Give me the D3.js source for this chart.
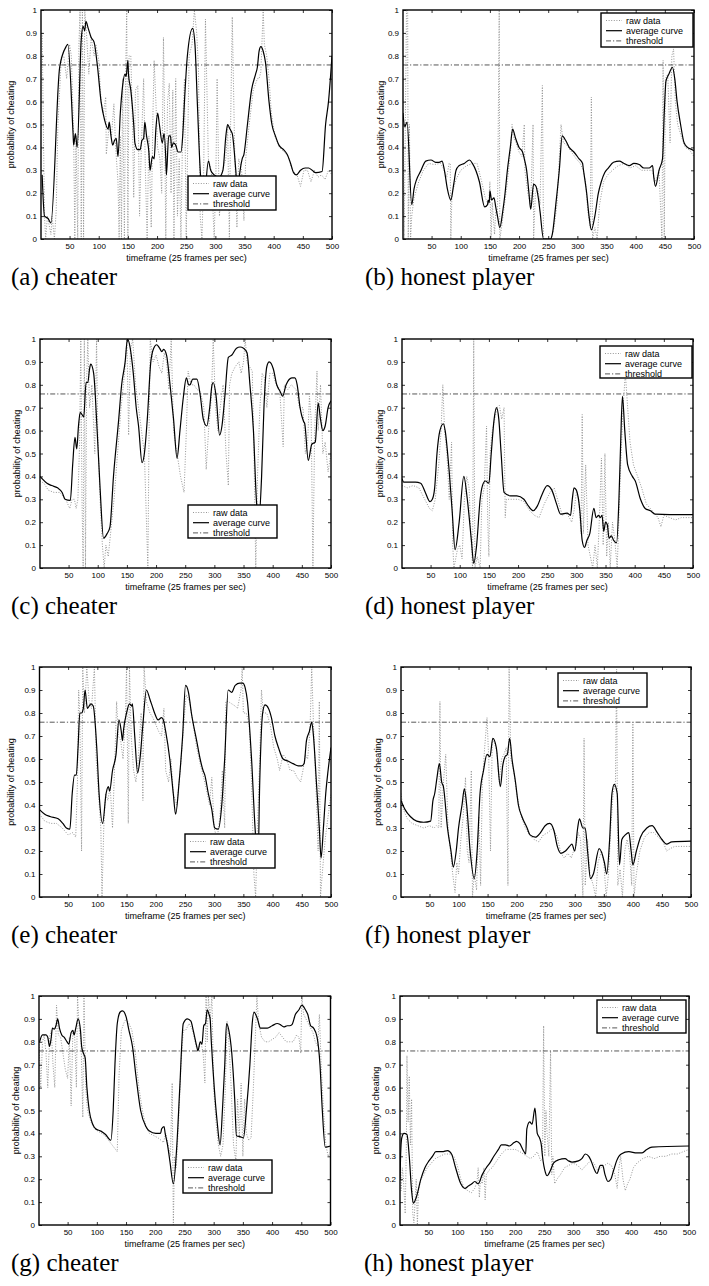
<!DOCTYPE html>
<html lang="en">
<head>
<meta charset="utf-8">
<style>
  body { margin: 0; background: #fff; }
  svg { display: block; }
  .tick text { font-family: "Liberation Sans", Arial, sans-serif; font-size: 8px; fill: #000; }
  .tick line { stroke: #000; stroke-width: 0.8; }
  .lab { font-family: "Liberation Sans", Arial, sans-serif; font-size: 9px; fill: #000; }
  .cap { font-family: "Liberation Serif", "Times New Roman", serif; font-size: 25px; fill: #000; }
  .raw { fill: none; stroke: #8a8a8a; stroke-width: 0.9; stroke-dasharray: 1,1.6; }
  .avg { fill: none; stroke: #000; stroke-width: 1.2; }
  .thr { fill: none; stroke: #444; stroke-width: 0.9; stroke-dasharray: 5,2,1.2,2; }
</style>
<script src="https://d3js.org/d3.v7.min.js"></script>
</head>
<body>
<svg width="709" height="1286"></svg>
<script>
// tick values and labels
var xTicks = [50, 100, 150, 200, 250, 300, 350, 400, 450, 500];
var yTicks = [0, 0.1, 0.2, 0.3, 0.4, 0.5, 0.6, 0.7, 0.8, 0.9, 1];
var threshold = 0.76;
var xLabel = "timeframe (25 frames per sec)";
var yLabel = "probability of cheating";
var legendNames = ["raw data", "average curve", "threshold"];
var captions = ["(a) cheater", "(b) honest player", "(c) cheater", "(d) honest player",
                "(e) cheater", "(f) honest player", "(g) cheater", "(h) honest player"];

// series: [frame, probability]
var avgA = [[3,0.28],[7,0.10],[13,0.09],[18,0.07],[33,0.75],[44,0.84],[47,0.85],[56,0.46],[57,0.41],[60,0.46],[63,0.40],[70,0.87],[73,0.93],[76,0.91],[78,0.95],[82,0.92],[87,0.88],[92,0.86],[98,0.75],[104,0.60],[110,0.52],[116,0.48],[118,0.51],[121,0.45],[124,0.41],[127,0.43],[130,0.44],[133,0.36],[137,0.55],[141,0.67],[145,0.72],[147,0.71],[150,0.78],[151,0.72],[155,0.65],[160,0.50],[162,0.42],[167,0.39],[171,0.39],[174,0.43],[177,0.44],[179,0.51],[182,0.45],[186,0.38],[188,0.30],[192,0.36],[195,0.35],[198,0.48],[201,0.55],[204,0.50],[209,0.42],[212,0.46],[215,0.35],[216,0.28],[220,0.45],[223,0.45],[225,0.40],[228,0.42],[232,0.41],[236,0.38],[241,0.38],[244,0.45],[247,0.60],[252,0.80],[261,0.92],[265,0.85],[269,0.60],[274,0.30],[280,0.15],[288,0.34],[292,0.30],[298,0.28],[306,0.27],[313,0.30],[318,0.45],[321,0.50],[325,0.48],[329,0.46],[335,0.30],[338,0.20],[340,0.25],[346,0.35],[349,0.37],[355,0.50],[362,0.65],[369,0.72],[372,0.75],[375,0.82],[378,0.84],[382,0.82],[386,0.77],[392,0.60],[397,0.50],[403,0.45],[409,0.41],[417,0.39],[423,0.37],[429,0.33],[434,0.29],[439,0.28],[446,0.30],[454,0.31],[460,0.31],[466,0.30],[472,0.29],[483,0.295],[489,0.50],[494,0.60],[500,0.80]];
var rawA = [[3,0.9],[5,0.5],[7,0.1],[9,0.0],[12,0.1],[18,0.02],[20,0.1],[24,0.0],[27,0.12],[30,0.5],[36,0.8],[40,0.8],[45,0.7],[50,0.85],[53,0.8],[57,0.45],[59,0.0],[61,0.45],[64,0.0],[66,0.85],[68,1.0],[70,0.0],[72,1.0],[74,0.0],[76,1.0],[79,0.9],[83,0.72],[87,0.88],[92,0.8],[95,0.85],[100,0.78],[104,0.6],[108,0.55],[112,0.62],[113,0.37],[118,0.5],[122,0.45],[126,0.59],[129,0.4],[133,0.25],[135,0.0],[137,0.45],[139,0.0],[141,0.7],[144,0.0],[146,0.7],[148,1.0],[150,0.0],[152,0.8],[155,0.8],[158,0.5],[160,0.18],[163,0.65],[167,0.67],[170,0.1],[173,0.4],[177,0.7],[180,0.3],[183,0.0],[186,0.45],[190,0.05],[193,0.55],[195,0.78],[198,0.6],[201,0.4],[205,0.35],[208,0.2],[211,0.88],[213,0.5],[215,0.0],[218,0.6],[221,0.68],[224,0.2],[227,0.65],[229,0.0],[232,0.7],[235,0.1],[238,0.35],[241,0.0],[244,0.5],[247,0.7],[250,0.0],[255,0.8],[260,0.85],[264,1.0],[268,0.9],[271,0.75],[274,0.1],[277,0.0],[280,0.3],[283,0.96],[288,0.35],[293,0.3],[298,0.0],[301,0.3],[303,0.7],[307,0.1],[312,0.3],[318,0.35],[321,0.5],[324,0.0],[326,0.48],[329,0.97],[333,0.4],[337,0.05],[340,0.35],[345,0.3],[349,0.08],[352,0.35],[358,0.5],[365,0.65],[372,0.7],[375,0.7],[378,0.73],[382,1.0],[384,0.85],[388,0.8],[392,0.7],[396,0.55],[402,0.45],[410,0.4],[418,0.38],[425,0.36],[432,0.3],[440,0.28],[446,0.23],[452,0.3],[458,0.3],[464,0.25],[470,0.3],[476,0.27],[482,0.28],[488,0.26],[494,0.3],[500,0.28]];

var avgB = [[1,0.55],[4,0.49],[8,0.51],[16,0.15],[20,0.22],[32,0.30],[40,0.34],[49,0.345],[57,0.335],[63,0.335],[68,0.34],[72,0.30],[77,0.22],[83,0.17],[88,0.24],[92,0.30],[97,0.32],[106,0.33],[115,0.345],[120,0.33],[132,0.25],[141,0.14],[146,0.15],[147,0.17],[149,0.16],[150,0.21],[153,0.17],[157,0.18],[160,0.14],[163,0.10],[167,0.05],[172,0.12],[176,0.20],[180,0.30],[185,0.40],[189,0.48],[194,0.44],[200,0.40],[206,0.38],[209,0.35],[213,0.30],[217,0.20],[220,0.13],[225,0.24],[229,0.23],[233,0.18],[236,0.12],[242,0],[254,0],[257,0.02],[263,0.15],[269,0.30],[274,0.45],[280,0.43],[286,0.40],[294,0.38],[303,0.35],[309,0.33],[310,0.31],[316,0.20],[320,0.10],[324,0.04],[330,0.10],[336,0.20],[341,0.25],[347,0.29],[353,0.31],[362,0.335],[372,0.34],[380,0.33],[389,0.32],[397,0.33],[406,0.325],[414,0.31],[423,0.31],[429,0.32],[431,0.27],[434,0.23],[440,0.30],[446,0.35],[449,0.55],[452,0.69],[457,0.72],[463,0.75],[467,0.70],[471,0.60],[477,0.50],[483,0.42],[489,0.40],[497,0.39],[500,0.385]];
var rawB = [[1,0.55],[3,0.0],[5,0.5],[7,1.0],[9,1.0],[10,0.0],[12,0.5],[14,0.0],[16,0.1],[20,0.18],[28,0.25],[36,0.3],[45,0.33],[55,0.325],[65,0.33],[70,0.31],[76,0.27],[80,0.33],[82,0.33],[83,0.0],[85,0.2],[92,0.26],[100,0.3],[110,0.32],[120,0.33],[128,0.33],[136,0.25],[142,0.18],[148,0.15],[150,0.25],[152,0.0],[154,0.16],[158,0.02],[160,0.12],[163,0.1],[166,1.0],[167,0.0],[170,0.05],[175,0.15],[180,0.25],[186,0.4],[188,0.5],[190,0.45],[195,0.42],[200,0.38],[205,0.36],[209,0.5],[210,0.3],[215,0.2],[220,0.15],[224,0.5],[225,0.0],[228,0.2],[232,0.22],[236,0.15],[240,0.67],[242,0.0],[255,0.0],[260,0.05],[265,0.15],[268,0.3],[272,0.5],[276,0.42],[282,0.41],[290,0.38],[298,0.35],[305,0.33],[310,0.3],[314,0.25],[318,0.12],[322,0.05],[324,0.62],[326,0.0],[330,0.05],[334,0.0],[338,0.15],[345,0.25],[352,0.28],[360,0.3],[370,0.32],[380,0.33],[390,0.31],[400,0.32],[410,0.3],[420,0.3],[428,0.3],[434,0.25],[440,0.3],[445,0.0],[447,0.78],[449,0.0],[451,0.7],[455,0.72],[459,0.42],[462,0.8],[465,0.83],[468,0.6],[472,0.5],[478,0.45],[485,0.4],[492,0.39],[500,0.36]];

var avgC = [[1,0.40],[13,0.37],[21,0.36],[31,0.35],[39,0.33],[44,0.30],[53,0.295],[57,0.45],[61,0.57],[64,0.52],[67,0.62],[70,0.68],[76,0.66],[80,0.81],[83,0.81],[86,0.87],[88,0.89],[93,0.85],[99,0.60],[104,0.35],[110,0.13],[116,0.15],[121,0.18],[127,0.40],[136,0.65],[141,0.80],[147,0.90],[151,1.0],[155,0.97],[161,0.85],[166,0.70],[170,0.62],[176,0.46],[180,0.50],[185,0.65],[191,0.90],[196,0.96],[201,0.975],[206,0.96],[210,0.945],[213,0.955],[218,0.93],[224,0.80],[230,0.65],[236,0.48],[241,0.60],[247,0.75],[252,0.83],[256,0.80],[258,0.80],[263,0.825],[270,0.825],[276,0.75],[281,0.65],[287,0.62],[292,0.70],[296,0.80],[298,0.81],[303,0.75],[309,0.58],[313,0.62],[318,0.75],[324,0.92],[330,0.93],[338,0.96],[344,0.965],[350,0.96],[356,0.94],[361,0.80],[367,0.60],[372,0.30],[376,0.20],[381,0.40],[385,0.70],[390,0.88],[394,0.90],[401,0.87],[407,0.80],[413,0.77],[417,0.75],[423,0.80],[433,0.83],[438,0.83],[442,0.80],[447,0.70],[453,0.64],[455,0.63],[461,0.47],[467,0.54],[473,0.55],[478,0.72],[482,0.65],[486,0.60],[490,0.62],[495,0.70],[500,0.73]];
var rawC = [[1,0.38],[8,0.37],[15,0.34],[25,0.33],[35,0.33],[45,0.3],[52,0.26],[56,0.3],[60,0.3],[63,0.26],[66,0.3],[69,0.55],[71,1.0],[73,0.3],[75,0.0],[77,1.0],[79,0.0],[81,0.82],[83,1.0],[86,0.7],[90,0.8],[95,0.5],[98,1.0],[100,0.6],[104,0.3],[108,0.1],[111,0.0],[114,0.1],[118,0.05],[122,0.15],[128,0.3],[134,0.5],[140,0.7],[146,0.85],[150,1.0],[153,0.58],[156,0.95],[160,1.0],[165,0.8],[170,0.7],[175,0.6],[180,0.5],[186,0.0],[188,0.6],[190,1.0],[195,0.9],[200,0.93],[205,0.88],[210,0.85],[214,0.94],[218,0.9],[222,0.78],[226,1.0],[230,0.6],[236,0.5],[242,0.4],[248,0.33],[252,0.6],[255,0.86],[260,0.8],[265,0.8],[270,0.78],[276,0.77],[282,0.7],[286,0.43],[290,0.6],[295,0.75],[298,1.0],[302,0.7],[306,0.6],[310,0.7],[315,0.8],[320,0.5],[324,0.36],[326,0.8],[330,0.85],[336,0.88],[342,0.9],[346,0.85],[350,0.9],[353,1.0],[356,0.9],[360,0.88],[365,0.86],[368,0.5],[371,0.0],[374,0.4],[378,0.7],[382,0.85],[386,0.83],[390,0.7],[395,0.85],[400,0.85],[406,0.8],[412,0.78],[418,0.53],[420,0.8],[426,0.78],[432,0.8],[440,0.78],[446,0.7],[452,0.7],[456,0.5],[460,0.55],[463,0.75],[466,0.65],[469,0.0],[472,0.6],[476,0.86],[478,0.6],[482,0.8],[486,0.5],[490,0.55],[495,0.42],[500,0.5]];

var avgD = [[1,0.39],[4,0.375],[24,0.375],[33,0.37],[41,0.33],[49,0.29],[53,0.30],[57,0.35],[61,0.50],[66,0.60],[72,0.63],[75,0.60],[81,0.45],[87,0.25],[92,0.08],[99,0.20],[107,0.40],[113,0.30],[120,0.12],[124,0.02],[129,0.10],[135,0.30],[139,0.36],[144,0.38],[150,0.37],[154,0.50],[159,0.65],[163,0.70],[167,0.65],[171,0.50],[176,0.33],[187,0.315],[198,0.315],[210,0.30],[218,0.27],[226,0.25],[233,0.27],[241,0.32],[250,0.36],[258,0.34],[266,0.28],[273,0.235],[284,0.24],[290,0.23],[293,0.30],[296,0.35],[300,0.34],[306,0.25],[310,0.12],[314,0.09],[318,0.12],[323,0.15],[330,0.26],[334,0.22],[338,0.23],[341,0.22],[344,0.23],[347,0.16],[350,0.20],[353,0.19],[356,0.13],[360,0.14],[364,0.12],[369,0.11],[373,0.30],[376,0.55],[379,0.75],[383,0.60],[388,0.45],[396,0.40],[401,0.38],[410,0.30],[418,0.26],[427,0.25],[435,0.235],[460,0.233],[500,0.233]];
var rawD = [[1,0.36],[10,0.35],[20,0.36],[30,0.35],[40,0.3],[48,0.26],[53,0.25],[58,0.3],[64,0.45],[68,0.6],[71,0.8],[74,0.6],[78,0.5],[82,0.3],[86,0.55],[88,0.1],[90,0.0],[93,0.04],[96,0.08],[100,0.1],[104,0.04],[108,0.3],[112,0.4],[116,0.35],[120,0.1],[122,0.0],[124,1.0],[126,0.0],[130,0.05],[135,0.0],[138,0.3],[142,0.35],[146,0.62],[148,0.2],[150,0.05],[152,0.5],[156,0.6],[160,0.65],[164,0.7],[168,0.71],[172,0.65],[176,0.7],[178,0.22],[180,0.3],[190,0.3],[200,0.3],[210,0.29],[220,0.25],[228,0.23],[236,0.22],[245,0.28],[255,0.33],[262,0.35],[270,0.28],[276,0.23],[282,0.24],[288,0.22],[292,0.2],[296,0.25],[300,0.33],[304,0.3],[308,0.15],[310,0.67],[312,0.15],[316,0.45],[320,0.1],[324,0.05],[328,0.0],[332,0.1],[336,0.0],[340,0.25],[343,0.48],[346,0.1],[349,0.5],[352,0.05],[355,0.2],[358,0.0],[362,0.2],[366,0.12],[370,0.0],[373,0.22],[376,0.45],[380,0.7],[384,0.85],[388,0.7],[392,0.55],[398,0.45],[405,0.4],[412,0.35],[420,0.28],[430,0.25],[440,0.22],[445,0.18],[450,0.23],[460,0.22],[470,0.21],[480,0.22],[490,0.22],[500,0.22]];

var avgE = [[1,0.38],[10,0.36],[19,0.35],[33,0.34],[41,0.32],[47,0.30],[53,0.295],[57,0.45],[61,0.53],[64,0.53],[67,0.65],[70,0.80],[73,0.80],[76,0.82],[79,0.90],[83,0.82],[86,0.83],[89,0.84],[93,0.83],[99,0.65],[103,0.45],[109,0.32],[115,0.45],[119,0.48],[121,0.46],[126,0.55],[132,0.62],[137,0.77],[141,0.72],[143,0.68],[145,0.73],[150,0.80],[155,0.84],[159,0.83],[160,0.84],[164,0.70],[169,0.54],[173,0.60],[178,0.75],[184,0.90],[190,0.86],[194,0.83],[198,0.80],[204,0.77],[210,0.78],[213,0.77],[217,0.72],[224,0.60],[230,0.45],[234,0.36],[240,0.50],[246,0.70],[251,0.92],[256,0.89],[261,0.80],[270,0.68],[276,0.60],[281,0.55],[284,0.53],[290,0.45],[296,0.38],[301,0.30],[307,0.295],[313,0.40],[318,0.60],[324,0.90],[330,0.89],[336,0.92],[344,0.93],[349,0.93],[353,0.91],[357,0.85],[364,0.60],[370,0.30],[375,0.15],[378,0.50],[383,0.80],[387,0.835],[393,0.82],[398,0.78],[404,0.70],[410,0.65],[418,0.60],[427,0.59],[435,0.58],[444,0.57],[450,0.57],[454,0.58],[458,0.68],[463,0.72],[467,0.76],[470,0.70],[475,0.50],[480,0.30],[483,0.17],[487,0.30],[491,0.45],[495,0.55],[500,0.65]];
var rawE = [[1,0.36],[10,0.33],[20,0.32],[30,0.32],[40,0.3],[50,0.27],[58,0.28],[63,0.26],[66,0.5],[68,0.9],[70,0.8],[73,0.2],[75,1.0],[78,0.8],[82,1.0],[86,0.85],[90,0.82],[95,1.0],[98,0.6],[102,0.45],[106,0.3],[108,0.0],[111,0.3],[114,0.45],[118,0.42],[122,0.48],[126,0.3],[130,0.6],[133,0.85],[136,0.7],[140,0.68],[144,0.6],[148,0.78],[150,1.0],[153,0.32],[155,1.0],[158,0.7],[162,0.55],[166,0.5],[170,0.6],[175,0.8],[178,0.42],[180,1.0],[184,0.85],[190,0.8],[195,0.78],[200,0.75],[205,0.72],[210,0.7],[214,0.82],[217,0.55],[222,0.5],[226,0.6],[230,0.45],[236,0.4],[242,0.55],[248,0.75],[252,0.88],[258,0.85],[264,0.75],[270,0.65],[276,0.58],[282,0.52],[288,0.45],[292,0.4],[296,0.52],[300,0.3],[305,0.25],[310,0.35],[314,0.55],[318,0.3],[320,0.85],[324,0.85],[330,0.84],[336,0.83],[340,0.82],[346,0.9],[348,1.0],[350,0.8],[355,0.8],[360,0.75],[364,0.5],[368,0.1],[371,0.0],[374,0.3],[378,0.6],[381,0.9],[384,0.8],[390,0.8],[396,0.75],[402,0.65],[408,0.6],[412,0.55],[418,0.62],[424,0.6],[430,0.55],[436,0.55],[442,0.52],[448,0.5],[452,0.55],[456,0.62],[460,0.6],[464,0.72],[467,1.0],[470,0.75],[474,0.5],[478,0.2],[480,0.85],[482,0.0],[485,0.1],[490,0.25],[495,0.35],[500,0.45]];

var avgF = [[1,0.42],[8,0.38],[17,0.35],[28,0.33],[40,0.325],[52,0.33],[56,0.42],[59,0.45],[63,0.52],[67,0.58],[71,0.50],[74,0.48],[81,0.30],[87,0.20],[91,0.13],[96,0.20],[100,0.30],[106,0.40],[110,0.47],[114,0.40],[120,0.20],[127,0.08],[132,0.20],[137,0.45],[143,0.55],[149,0.62],[154,0.61],[159,0.69],[165,0.65],[172,0.48],[176,0.57],[180,0.61],[184,0.62],[188,0.69],[192,0.60],[198,0.50],[203,0.40],[209,0.35],[218,0.30],[223,0.27],[232,0.26],[241,0.28],[249,0.31],[257,0.32],[264,0.29],[270,0.22],[276,0.19],[284,0.20],[291,0.22],[295,0.23],[300,0.20],[305,0.30],[308,0.34],[314,0.30],[318,0.30],[322,0.20],[327,0.08],[332,0.10],[342,0.21],[351,0.15],[355,0.10],[360,0.25],[364,0.45],[368,0.49],[373,0.45],[377,0.14],[381,0.25],[387,0.27],[393,0.28],[397,0.20],[400,0.14],[406,0.20],[413,0.26],[424,0.30],[433,0.31],[442,0.28],[450,0.25],[458,0.23],[467,0.24],[500,0.243]];
var rawF = [[1,0.45],[5,0.38],[12,0.34],[20,0.32],[30,0.31],[40,0.3],[50,0.31],[58,0.3],[62,0.31],[66,0.3],[68,0.85],[70,0.3],[74,0.5],[78,0.62],[82,0.3],[86,0.2],[90,0.1],[94,0.02],[97,0.15],[100,0.1],[104,0.25],[108,0.35],[112,0.52],[115,0.2],[118,0.15],[122,0.55],[124,0.0],[127,0.1],[131,0.03],[135,0.35],[138,0.05],[141,0.5],[145,0.65],[149,0.78],[152,0.6],[155,0.2],[158,0.68],[162,0.67],[166,0.63],[170,0.5],[174,0.6],[178,0.62],[182,0.65],[185,0.05],[187,1.0],[190,0.6],[195,0.55],[200,0.45],[208,0.35],[215,0.3],[222,0.27],[230,0.25],[238,0.24],[246,0.27],[254,0.28],[262,0.3],[270,0.26],[276,0.19],[282,0.17],[288,0.19],[294,0.17],[298,0.2],[302,0.22],[306,0.28],[310,0.25],[314,0.0],[316,0.69],[318,0.05],[322,0.25],[326,0.1],[332,0.05],[336,0.0],[340,0.15],[346,0.2],[350,0.15],[354,0.0],[358,0.1],[362,0.3],[366,0.45],[370,0.5],[372,0.99],[374,0.05],[378,0.12],[382,0.0],[386,0.2],[390,0.25],[394,0.2],[398,0.05],[400,0.76],[402,0.0],[406,0.1],[412,0.2],[420,0.26],[428,0.28],[436,0.28],[444,0.26],[452,0.24],[458,0.2],[464,0.21],[472,0.22],[480,0.22],[490,0.22],[500,0.22]];

var avgG = [[2,0.80],[7,0.83],[13,0.83],[16,0.82],[19,0.78],[22,0.82],[24,0.86],[27,0.855],[30,0.87],[33,0.90],[36,0.86],[40,0.83],[44,0.82],[49,0.80],[52,0.79],[56,0.84],[59,0.85],[61,0.83],[64,0.86],[68,0.90],[72,0.85],[74,0.78],[77,0.75],[80,0.73],[83,0.60],[87,0.50],[93,0.44],[98,0.42],[107,0.41],[115,0.395],[124,0.37],[128,0.50],[131,0.70],[135,0.88],[140,0.93],[144,0.935],[150,0.91],[155,0.85],[161,0.78],[167,0.65],[175,0.50],[184,0.43],[190,0.41],[201,0.40],[209,0.40],[211,0.42],[215,0.43],[217,0.40],[221,0.35],[225,0.28],[231,0.18],[237,0.35],[242,0.60],[248,0.88],[255,0.90],[261,0.89],[265,0.85],[271,0.78],[273,0.76],[277,0.80],[280,0.79],[283,0.87],[286,0.88],[289,0.94],[292,0.92],[294,0.90],[296,0.80],[301,0.60],[306,0.45],[311,0.35],[315,0.50],[319,0.70],[322,0.88],[326,0.85],[331,0.75],[336,0.55],[339,0.39],[346,0.385],[351,0.38],[356,0.50],[362,0.70],[366,0.88],[369,0.93],[375,0.90],[380,0.86],[392,0.86],[400,0.87],[409,0.88],[414,0.875],[420,0.865],[426,0.87],[430,0.87],[434,0.875],[440,0.92],[446,0.94],[451,0.96],[457,0.94],[461,0.92],[466,0.87],[471,0.86],[477,0.82],[482,0.70],[486,0.50],[491,0.34],[500,0.345]];
var rawG = [[1,0.8],[4,0.6],[7,0.8],[10,0.83],[13,0.75],[16,0.6],[19,0.82],[22,0.85],[25,0.7],[28,0.6],[31,0.96],[34,0.83],[38,0.82],[42,0.75],[46,0.68],[50,0.64],[53,0.82],[56,0.52],[59,0.85],[62,0.83],[65,0.6],[67,1.0],[70,0.85],[73,0.8],[76,0.47],[78,1.0],[81,0.6],[84,0.5],[90,0.45],[96,0.42],[102,0.41],[108,0.4],[114,0.39],[120,0.37],[126,0.35],[132,0.33],[135,0.32],[138,0.65],[142,0.85],[146,0.88],[150,0.9],[155,0.88],[160,0.85],[166,0.75],[172,0.6],[178,0.5],[184,0.43],[190,0.4],[198,0.39],[205,0.38],[210,0.37],[214,0.36],[218,0.4],[222,0.35],[226,0.3],[229,0.62],[231,0.0],[233,0.3],[236,0.25],[240,0.45],[244,0.7],[248,0.85],[252,0.85],[258,0.88],[264,0.85],[270,0.78],[274,0.77],[278,0.8],[282,0.75],[285,0.62],[287,1.0],[289,0.8],[291,1.0],[294,0.9],[297,1.0],[300,0.6],[304,0.45],[308,0.35],[312,0.3],[316,0.35],[320,0.6],[323,0.89],[326,0.8],[330,0.6],[334,0.35],[338,0.28],[341,0.55],[344,0.38],[347,0.62],[350,0.3],[353,0.55],[356,0.4],[360,0.37],[364,0.38],[368,0.6],[371,0.8],[374,1.0],[377,0.88],[382,0.82],[388,0.8],[394,0.8],[400,0.81],[406,0.82],[412,0.84],[418,0.82],[424,0.8],[430,0.8],[436,0.8],[442,0.83],[446,0.82],[449,0.75],[451,1.0],[454,0.92],[458,0.9],[462,0.88],[466,0.86],[470,0.84],[474,0.8],[478,0.78],[481,0.92],[484,0.7],[488,0.5],[492,0.35],[496,0.3],[500,0.32]];

var avgH = [[1,0.20],[2,0.30],[4,0.38],[8,0.40],[13,0.395],[17,0.30],[21,0.15],[24,0.095],[29,0.12],[37,0.20],[44,0.25],[51,0.28],[57,0.30],[63,0.32],[74,0.32],[83,0.325],[90,0.31],[97,0.25],[106,0.18],[113,0.16],[119,0.17],[125,0.18],[130,0.19],[136,0.18],[143,0.22],[150,0.25],[156,0.27],[163,0.30],[171,0.33],[176,0.35],[183,0.35],[190,0.345],[198,0.36],[202,0.365],[208,0.355],[213,0.33],[218,0.31],[220,0.42],[225,0.45],[229,0.44],[234,0.51],[238,0.40],[242,0.38],[245,0.35],[247,0.30],[252,0.23],[255,0.215],[261,0.24],[266,0.27],[275,0.285],[286,0.29],[292,0.28],[298,0.275],[309,0.28],[315,0.29],[321,0.31],[327,0.30],[331,0.28],[337,0.24],[341,0.225],[347,0.26],[351,0.26],[355,0.22],[360,0.19],[365,0.20],[370,0.24],[375,0.28],[383,0.31],[396,0.32],[410,0.315],[419,0.315],[427,0.33],[436,0.34],[500,0.345]];
var rawH = [[1,0.3],[3,0.15],[5,0.25],[7,0.2],[10,0.05],[12,0.35],[13,0.74],[15,0.45],[17,0.65],[19,0.35],[21,0.55],[23,0.05],[25,0.01],[27,0.1],[29,0.2],[31,0.0],[33,0.15],[37,0.2],[42,0.22],[48,0.25],[55,0.27],[62,0.29],[70,0.3],[78,0.31],[86,0.31],[94,0.3],[100,0.26],[106,0.2],[112,0.16],[118,0.15],[124,0.14],[130,0.16],[134,0.19],[136,0.25],[138,0.12],[140,0.2],[143,0.18],[146,0.25],[148,0.11],[150,0.22],[155,0.24],[160,0.25],[168,0.28],[176,0.31],[184,0.33],[192,0.33],[200,0.33],[208,0.32],[214,0.31],[220,0.3],[226,0.29],[232,0.3],[238,0.32],[244,0.28],[247,0.29],[249,0.87],[251,0.3],[253,0.5],[255,0.4],[258,0.3],[261,0.76],[263,0.22],[265,0.3],[268,0.18],[272,0.2],[278,0.22],[285,0.25],[292,0.26],[300,0.27],[308,0.26],[315,0.24],[322,0.26],[330,0.28],[336,0.27],[342,0.24],[348,0.25],[354,0.26],[360,0.27],[366,0.26],[372,0.22],[376,0.16],[379,0.25],[382,0.3],[386,0.2],[390,0.15],[394,0.18],[398,0.2],[404,0.25],[410,0.27],[420,0.29],[430,0.3],[440,0.29],[450,0.3],[460,0.3],[470,0.31],[480,0.31],[490,0.32],[500,0.33]];

var avgSeries = [avgA, avgB, avgC, avgD, avgE, avgF, avgG, avgH];
var rawSeries = [rawA, rawB, rawC, rawD, rawE, rawF, rawG, rawH];

// panel boxes, legend boxes (page coords)
var layout = [
  {x: 41,  y: 10,  w: 291, h: 229, yl: -30, cx: 11,  lg: [188, 176, 88, 34]},
  {x: 403, y: 10,  w: 291, h: 229, yl: -22, cx: 365, lg: [601, 13, 92, 34]},
  {x: 40,  y: 339, w: 291, h: 229, yl: -23, cx: 11,  lg: [188, 505, 89, 33]},
  {x: 402, y: 339, w: 291, h: 229, yl: -22, cx: 365, lg: [600, 346, 92, 32]},
  {x: 39.5,y: 667, w: 291.5, h: 230, yl: -29, cx: 11, lg: [185, 834, 90, 34]},
  {x: 401, y: 667, w: 290, h: 230, yl: -23, cx: 365, lg: [558, 673, 89, 34]},
  {x: 39,  y: 996, w: 291.5, h: 229, yl: -23, cx: 11, lg: [183, 1160, 89, 33]},
  {x: 400, y: 996, w: 289, h: 229, yl: -24, cx: 364, lg: [597, 1000, 89, 33]}
];

var svg = d3.select("svg");
svg.append("rect").attr("width", 709).attr("height", 1286).attr("fill", "#fff");

layout.forEach(function (p, i) {
  var x = d3.scaleLinear().domain([1, 500]).range([0, p.w]);
  var y = d3.scaleLinear().domain([0, 1]).range([p.h, 0]);
  var g = svg.append("g").attr("transform", "translate(" + p.x + "," + p.y + ")");

  g.append("clipPath").attr("id", "clip" + i)
    .append("rect").attr("width", p.w).attr("height", p.h);

  var line = d3.line()
    .x(function (d) { return x(d[0]); })
    .y(function (d) { return y(d[1]); });
  var smooth = d3.line()
    .x(function (d) { return x(d[0]); })
    .y(function (d) { return y(d[1]); })
    .curve(d3.curveMonotoneX);

  var plot = g.append("g").attr("clip-path", "url(#clip" + i + ")");
  plot.append("path").attr("class", "raw").attr("d", line(rawSeries[i]));
  plot.append("path").attr("class", "thr")
    .attr("d", line([[1, threshold], [500, threshold]]));
  plot.append("path").attr("class", "avg").attr("d", smooth(avgSeries[i]));

  // axes, ticks pointing inward on all four sides
  g.append("g").attr("transform", "translate(0," + p.h + ")")
    .call(d3.axisBottom(x).tickValues(xTicks).tickSizeInner(-3).tickSizeOuter(0).tickPadding(4))
    .call(function (a) { a.select(".domain").remove(); });
  g.append("g")
    .call(d3.axisTop(x).tickValues(xTicks).tickSizeInner(-3).tickSizeOuter(0).tickFormat(""))
    .call(function (a) { a.select(".domain").remove(); });
  g.append("g")
    .call(d3.axisLeft(y).tickValues(yTicks).tickSizeInner(-3).tickSizeOuter(0).tickPadding(4)
      .tickFormat(d3.format("~g")))
    .call(function (a) { a.select(".domain").remove(); });
  g.append("g").attr("transform", "translate(" + p.w + ",0)")
    .call(d3.axisRight(y).tickValues(yTicks).tickSizeInner(-3).tickSizeOuter(0).tickFormat(""))
    .call(function (a) { a.select(".domain").remove(); });
  g.selectAll(".tick text").attr("font-family", null).attr("font-size", null);

  g.append("rect").attr("width", p.w).attr("height", p.h)
    .attr("fill", "none").attr("stroke", "#000").attr("stroke-width", 1.4);

  g.append("text").attr("class", "lab")
    .attr("x", p.w / 2).attr("y", p.h + 22)
    .attr("text-anchor", "middle").text(xLabel);
  g.append("text").attr("class", "lab")
    .attr("transform", "translate(" + p.yl + "," + (p.h / 2) + ") rotate(-90)")
    .attr("dy", "0.35em").attr("text-anchor", "middle").text(yLabel);

  // legend
  var lg = svg.append("g").attr("transform", "translate(" + p.lg[0] + "," + p.lg[1] + ")");
  lg.append("rect").attr("width", p.lg[2]).attr("height", p.lg[3])
    .attr("fill", "#fff").attr("stroke", "#000").attr("stroke-width", 1.4);
  var cls = ["raw", "avg", "thr"];
  legendNames.forEach(function (name, k) {
    var cy = 7.5 + k * 10.2;
    lg.append("line").attr("class", cls[k])
      .attr("x1", 5).attr("x2", 21).attr("y1", cy).attr("y2", cy);
    lg.append("text").attr("class", "lab")
      .attr("x", 25).attr("y", cy).attr("dy", "0.35em").text(name);
  });

  svg.append("text").attr("class", "cap")
    .attr("x", p.cx).attr("y", p.y + p.h + 46).text(captions[i]);
});
</script>
</body>
</html>
